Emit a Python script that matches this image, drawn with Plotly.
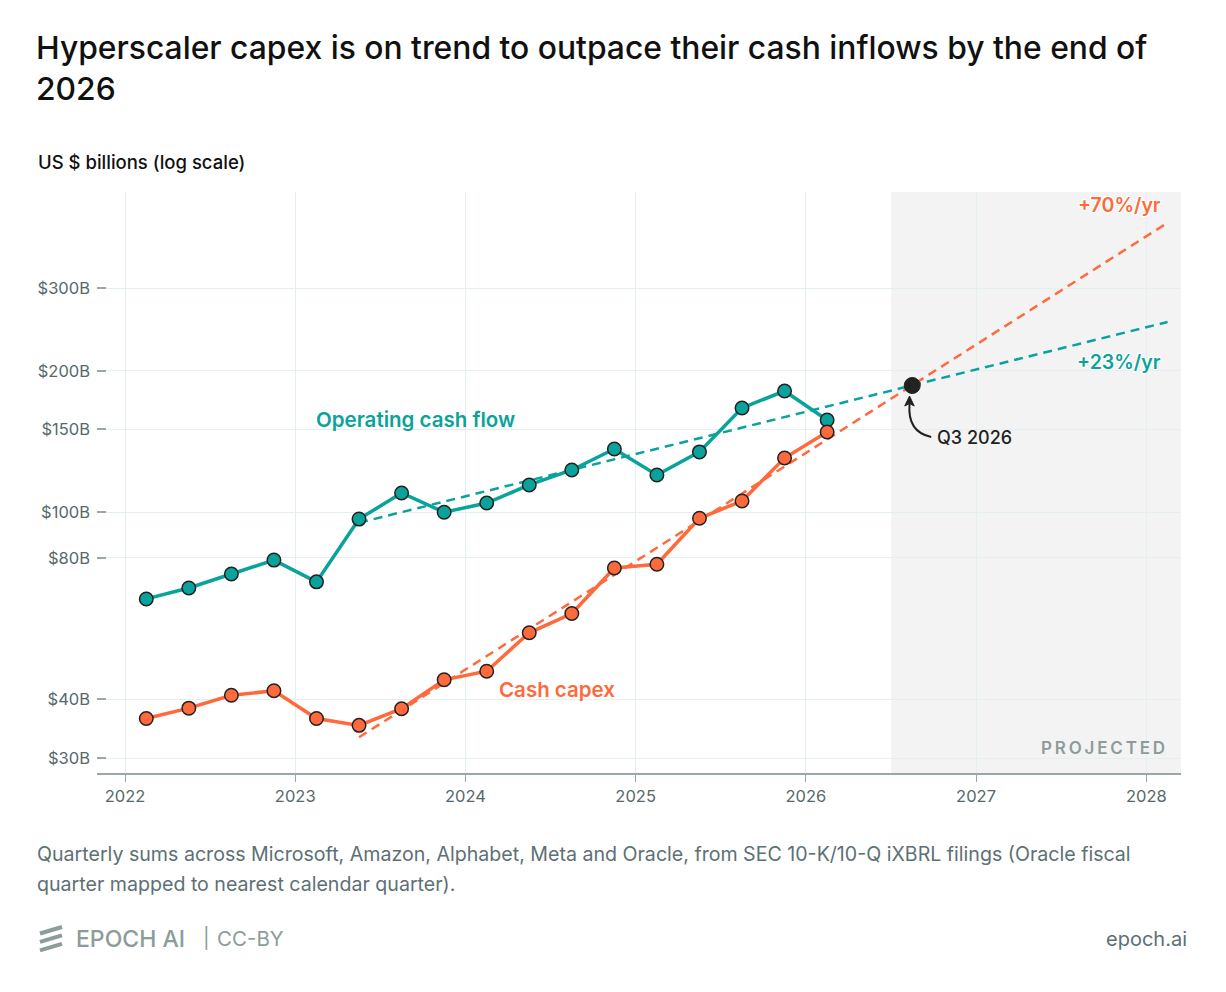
import plotly.graph_objects as go

# ---------------- data ----------------
quarters = ["2022-Q1", "2022-Q2", "2022-Q3", "2022-Q4",
            "2023-Q1", "2023-Q2", "2023-Q3", "2023-Q4",
            "2024-Q1", "2024-Q2", "2024-Q3", "2024-Q4",
            "2025-Q1", "2025-Q2", "2025-Q3", "2025-Q4",
            "2026-Q1"]
operating_cash_flow = [65.4, 69.0, 73.9, 79.1, 71.1, 96.7, 109.9, 100.0,
                       104.6, 114.3, 123.0, 136.3, 120.0, 134.4, 166.7, 181.1, 157.1]
cash_capex = [36.4, 38.3, 40.8, 41.7, 36.4, 35.2, 38.2, 44.0,
              45.9, 55.4, 60.9, 76.1, 77.5, 97.1, 105.7, 130.4, 148.2]

trend_x = [2023.375, 2028.125]
ocf_trend = [95.0, 254.0]      # +23%/yr
capex_trend = [33.2, 413.0]    # +70%/yr
crossover_x = [2026.625]
crossover_y = [186.1]
projection_start = 2026.5

year_ticks = [2022, 2023, 2024, 2025, 2026, 2027, 2028]
y_ticks = [30, 40, 80, 100, 150, 200, 300]
y_tick_labels = ["$30B", "$40B", "$80B", "$100B", "$150B", "$200B", "$300B"]


def q_to_year(q):
    y, qq = q.split("-Q")
    return int(y) + (int(qq) - 0.5) / 4


xq = [q_to_year(q) for q in quarters]

# ---------------- style ----------------
TEAL = "#0aa39b"
ORANGE = "#ff6a3d"
DARK = "#222222"
GRID = "#e3eff0"
AXIS = "#9aa6a7"
TICKTXT = "#57686b"
FONT = "Inter"

W, H = 1226, 992
L, R, T, B = 97, 1180.7, 192, 773


def px(x):
    return (x - L) / (R - L)


def py(y):
    return (B - y) / (B - T)


HALO = "1px 1px 0 white, -1px -1px 0 white, 1px -1px 0 white, -1px 1px 0 white, 0 0 3px white"

fig = go.Figure()

# trend lines
fig.add_trace(go.Scatter(x=trend_x, y=ocf_trend, mode="lines",
                         line=dict(color=TEAL, width=2.5, dash="9px,6px"),
                         hoverinfo="skip", showlegend=False))
fig.add_trace(go.Scatter(x=trend_x, y=capex_trend, mode="lines",
                         line=dict(color=ORANGE, width=2.5, dash="9px,6px"),
                         hoverinfo="skip", showlegend=False))

# data series
fig.add_trace(go.Scatter(x=xq, y=operating_cash_flow, mode="lines+markers",
                         name="Operating cash flow",
                         line=dict(color=TEAL, width=3.5),
                         marker=dict(size=13.5, color=TEAL, line=dict(color=DARK, width=1.5)),
                         showlegend=False))
fig.add_trace(go.Scatter(x=xq, y=cash_capex, mode="lines+markers",
                         name="Cash capex",
                         line=dict(color=ORANGE, width=3.5),
                         marker=dict(size=13.5, color=ORANGE, line=dict(color=DARK, width=1.5)),
                         showlegend=False))

# crossover dot
fig.add_trace(go.Scatter(x=crossover_x, y=crossover_y, mode="markers",
                         marker=dict(size=16, color=DARK, line=dict(color=DARK, width=1)),
                         showlegend=False, hoverinfo="skip"))

shapes = []
# projected shading
shapes.append(dict(type="rect", xref="x", yref="paper", x0=projection_start, x1=2028.204,
                   y0=0, y1=1, fillcolor="#f3f3f3", line=dict(width=0), layer="below"))

# curved arrow to crossover point
shapes.append(dict(type="path", xref="paper", yref="paper",
                   path=f"M {px(931)},{py(437)} Q {px(907)},{py(432)} {px(909.3)},{py(404)}",
                   line=dict(color=DARK, width=2)))
shapes.append(dict(type="path", xref="paper", yref="paper",
                   path=(f"M {px(909.3)},{py(396)} L {px(904.5)},{py(406)} "
                         f"L {px(909.3)},{py(403.5)} L {px(914)},{py(406)} Z"),
                   fillcolor=DARK, line=dict(color=DARK, width=1)))

# Epoch logo bars
LOGO = "#8c9c9a"
for dy in (0, 8.4, 16.8):
    shapes.append(dict(type="line", xref="paper", yref="paper",
                       x0=px(40), y0=py(933.5 + dy), x1=px(62), y1=py(927 + dy),
                       line=dict(color=LOGO, width=4)))

annotations = []


def ann(text, x, y, size, color, xanchor="left", yanchor="middle", weight=400, shadow=None):
    f = dict(family=FONT, size=size, color=color, weight=weight)
    if shadow:
        f["shadow"] = shadow
    annotations.append(dict(text=text, xref="paper", yref="paper", x=px(x), y=py(y),
                            xanchor=xanchor, yanchor=yanchor, showarrow=False, font=f,
                            align="left"))


# title & subtitle
ann("Hyperscaler capex is on trend to outpace their cash inflows by the end of<br>2026",
    34, 68.5, 31.8, "#111111", weight=500)
ann("US $ billions (log scale)", 36, 162, 18.5, "#111111", weight=500)

# series labels
ann("Operating cash flow", 314, 419, 20.5, TEAL, weight=600)
ann("Cash capex", 497, 689, 20.5, ORANGE, weight=600)
ann("+70%/yr", 1163, 205, 19.5, ORANGE, xanchor="right", weight=600, shadow=HALO)
ann("+23%/yr", 1163, 362, 19.5, TEAL, xanchor="right", weight=600, shadow=HALO)
ann("Q3 2026", 935, 437, 18, DARK, weight=500)
ann("P\u2009R\u2009O\u2009J\u2009E\u2009C\u2009T\u2009E\u2009D", 1167, 748, 17, "#8e9b9b",
    xanchor="right", weight=600)

# footnote
ann("Quarterly sums across Microsoft, Amazon, Alphabet, Meta and Oracle, from SEC 10-K/10-Q iXBRL filings (Oracle fiscal",
    35, 854, 19.6, "#5d7075")
ann("quarter mapped to nearest calendar quarter).", 35, 884, 19.6, "#5d7075")

# footer
ann("EPOCH AI", 74, 939, 23, LOGO, weight=500)
ann("|", 201, 938, 20, LOGO)
ann("CC-BY", 215, 939, 20.5, LOGO)
ann("epoch.ai", 1189, 939, 20, "#5a7075", xanchor="right")

fig.update_layout(
    width=W, height=H,
    margin=dict(l=L, r=W - R, t=T, b=H - B, pad=0),
    paper_bgcolor="white", plot_bgcolor="white",
    font=dict(family=FONT, size=16, color=TICKTXT),
    shapes=shapes, annotations=annotations,
    showlegend=False,
)

fig.update_xaxes(
    range=[2021.8355, 2028.204],
    tickmode="array", tickvals=year_ticks, ticktext=[str(y) for y in year_ticks],
    showgrid=True, gridcolor=GRID, gridwidth=1,
    showline=True, linecolor=AXIS, linewidth=1.5,
    ticks="outside", ticklen=7, tickcolor=AXIS, tickwidth=1,
    tickfont=dict(family=FONT, size=16.5, color=TICKTXT),
    zeroline=False,
)
fig.update_yaxes(
    type="log", range=[1.4452, 2.6814],
    tickmode="array", tickvals=y_ticks, ticktext=y_tick_labels,
    showgrid=True, gridcolor=GRID, gridwidth=1,
    showline=False,
    ticks="inside", ticklen=9, tickcolor=AXIS, tickwidth=1.5,
    ticklabelstandoff=6,
    tickfont=dict(family=FONT, size=16.5, color=TICKTXT),
    zeroline=False,
)

fig.write_html("out.html")
